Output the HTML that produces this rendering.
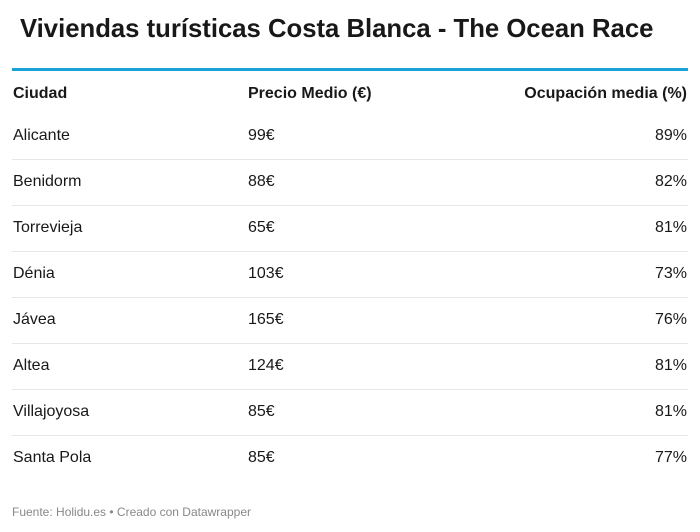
<!DOCTYPE html>
<html><head><meta charset="utf-8"><style>
body{margin:0;width:700px;height:532px;background:#fff;font-family:"Liberation Sans",sans-serif;color:#181818;position:relative;overflow:hidden}
.t{position:absolute;left:20px;top:15px;font-size:25.7px;font-weight:bold;white-space:nowrap}
.bl{position:absolute;left:12px;width:676px;top:68px;height:3px;background:#1aa1d6}
.r{position:absolute;left:12px;width:676px;height:46px;font-size:16px}
.r span{position:absolute;top:50%;transform:translateY(-50%)}
.a{left:1px}.b{left:236px}.c{right:1px}
.h{font-weight:bold}
.s{border-bottom:1px solid #e6e6e6}
.f{position:absolute;left:12px;top:505px;font-size:12px;color:#888}
</style></head><body>
<div class="t">Viviendas turísticas Costa Blanca - The Ocean Race</div>
<div class="bl"></div>
<div class="r h" style="top:71px"><span class="a">Ciudad</span><span class="b">Precio Medio (€)</span><span class="c">Ocupación media (%)</span></div>
<div class="r s" style="top:113px"><span class="a">Alicante</span><span class="b">99€</span><span class="c">89%</span></div>
<div class="r s" style="top:159px"><span class="a">Benidorm</span><span class="b">88€</span><span class="c">82%</span></div>
<div class="r s" style="top:205px"><span class="a">Torrevieja</span><span class="b">65€</span><span class="c">81%</span></div>
<div class="r s" style="top:251px"><span class="a">Dénia</span><span class="b">103€</span><span class="c">73%</span></div>
<div class="r s" style="top:297px"><span class="a">Jávea</span><span class="b">165€</span><span class="c">76%</span></div>
<div class="r s" style="top:343px"><span class="a">Altea</span><span class="b">124€</span><span class="c">81%</span></div>
<div class="r s" style="top:389px"><span class="a">Villajoyosa</span><span class="b">85€</span><span class="c">81%</span></div>
<div class="r" style="top:435px"><span class="a">Santa Pola</span><span class="b">85€</span><span class="c">77%</span></div>
<div class="f">Fuente: Holidu.es • Creado con Datawrapper</div>
</body></html>
